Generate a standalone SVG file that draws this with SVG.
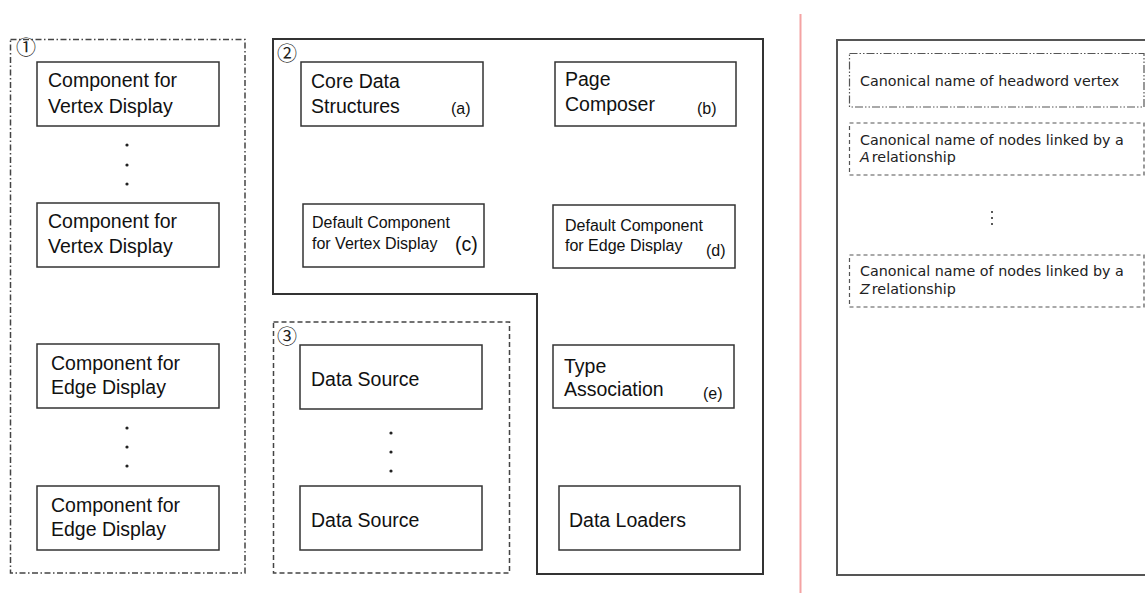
<svg xmlns="http://www.w3.org/2000/svg" width="1145" height="593" viewBox="0 0 1145 593">
  <style>
    .box { fill: #fff; stroke: #333; stroke-width: 1.5; }
    .frame { fill: none; stroke: #333; stroke-width: 2; }
    .dashdot { fill: none; stroke: #444; stroke-width: 1.5; stroke-dasharray: 6 2.5 1.5 2.5; }
    .dashed { fill: none; stroke: #444; stroke-width: 1.5; stroke-dasharray: 5 3; }
    .dashdotdot { fill: none; stroke: #555; stroke-width: 1.2; stroke-dasharray: 8 2 1.5 2 1.5 2; }
    .thindash { fill: none; stroke: #555; stroke-width: 1.2; stroke-dasharray: 4 3; }
    .t { font-family: "Liberation Sans", Arial, sans-serif; font-size: 19.5px; fill: #111; }
    .ts { font-family: "Liberation Sans", Arial, sans-serif; font-size: 16px; fill: #111; }
    .num { font-family: "Noto Sans CJK SC", "DejaVu Sans", sans-serif; font-size: 20px; fill: #222; }
    .tr { font-family: "DejaVu Sans", Verdana, sans-serif; font-size: 14.3px; fill: #222; }
    .dot { fill: #222; }
  </style>

  <!-- separator between the two halves -->
  <line x1="800.5" y1="14" x2="800.5" y2="593" stroke="#f4a3a3" stroke-width="2"/>

  <!-- group 1: display components -->
  <g id="group1">
    <rect class="dashdot" x="10.5" y="39.5" width="234.5" height="533.5"/>
    <text class="num" x="16" y="55">①</text>
  </g>
  <g id="vertex-display-1">
    <rect class="box" x="37" y="62" width="182" height="64"/>
    <text class="t" x="48" y="87">Component for</text>
    <text class="t" x="48" y="113">Vertex Display</text>
  </g>
  <g id="vertex-dots">
    <circle class="dot" cx="127" cy="145" r="1.6"/>
    <circle class="dot" cx="127" cy="165" r="1.6"/>
    <circle class="dot" cx="127" cy="184" r="1.6"/>
  </g>
  <g id="vertex-display-2">
    <rect class="box" x="37" y="203" width="182" height="64"/>
    <text class="t" x="48" y="228">Component for</text>
    <text class="t" x="48" y="253">Vertex Display</text>
  </g>
  <g id="edge-display-1">
    <rect class="box" x="37" y="344" width="182" height="64"/>
    <text class="t" x="51" y="370">Component for</text>
    <text class="t" x="51" y="394">Edge Display</text>
  </g>
  <g id="edge-dots">
    <circle class="dot" cx="127" cy="428" r="1.6"/>
    <circle class="dot" cx="127" cy="447" r="1.6"/>
    <circle class="dot" cx="127" cy="466" r="1.6"/>
  </g>
  <g id="edge-display-2">
    <rect class="box" x="37" y="486" width="182" height="64"/>
    <text class="t" x="51" y="512">Component for</text>
    <text class="t" x="51" y="536">Edge Display</text>
  </g>

  <!-- group 2: core framework -->
  <g id="group2">
    <path class="frame" d="M273,39 H763 V574 H537 V294 H273 Z"/>
    <text class="num" x="277" y="61">②</text>
  </g>
  <g id="core-data">
    <rect class="box" x="301" y="62" width="182" height="64"/>
    <text class="t" x="311" y="88">Core Data</text>
    <text class="t" x="311" y="113">Structures</text>
    <text class="ts" x="451" y="114">(a)</text>
  </g>
  <g id="page-composer">
    <rect class="box" x="555" y="62" width="181" height="64"/>
    <text class="t" x="565" y="86">Page</text>
    <text class="t" x="565" y="111">Composer</text>
    <text class="ts" x="697" y="114">(b)</text>
  </g>
  <g id="default-vertex">
    <rect class="box" x="303" y="204" width="181" height="63"/>
    <text class="ts" x="312" y="228">Default Component</text>
    <text class="ts" x="312" y="249">for Vertex Display</text>
    <text class="t" x="455" y="251">(c)</text>
  </g>
  <g id="default-edge">
    <rect class="box" x="553" y="205" width="182" height="63"/>
    <text class="ts" x="565" y="231">Default Component</text>
    <text class="ts" x="565" y="251">for Edge Display</text>
    <text class="ts" x="706" y="256">(d)</text>
  </g>
  <g id="type-association">
    <rect class="box" x="553" y="345" width="181" height="63"/>
    <text class="t" x="564" y="373">Type</text>
    <text class="t" x="564" y="396">Association</text>
    <text class="ts" x="703" y="399">(e)</text>
  </g>
  <g id="data-loaders">
    <rect class="box" x="559" y="486" width="181" height="64"/>
    <text class="t" x="569" y="527">Data Loaders</text>
  </g>

  <!-- group 3: data sources -->
  <g id="group3">
    <rect class="dashed" x="273.5" y="322" width="236" height="251"/>
    <text class="num" x="277" y="344">③</text>
  </g>
  <g id="data-source-1">
    <rect class="box" x="300" y="345" width="182" height="64"/>
    <text class="t" x="311" y="386">Data Source</text>
  </g>
  <g id="source-dots">
    <circle class="dot" cx="391" cy="433" r="1.6"/>
    <circle class="dot" cx="391" cy="452" r="1.6"/>
    <circle class="dot" cx="391" cy="471" r="1.6"/>
  </g>
  <g id="data-source-2">
    <rect class="box" x="300" y="486" width="182" height="64"/>
    <text class="t" x="311" y="527">Data Source</text>
  </g>

  <!-- page layout panel -->
  <g id="page-panel">
    <rect x="837" y="40" width="320" height="535" fill="none" stroke="#555" stroke-width="2"/>
  </g>
  <g id="headword">
    <rect class="dashdotdot" x="849.5" y="53.5" width="294.5" height="53.5"/>
    <text class="tr" x="860" y="86">Canonical name of headword vertex</text>
  </g>
  <g id="relation-a">
    <rect class="thindash" x="849.5" y="123" width="294.5" height="52"/>
    <text class="tr" x="860" y="145">Canonical name of nodes linked by a</text>
    <text class="tr" x="860" y="162"><tspan font-style="italic">A</tspan><tspan dx="2">relationship</tspan></text>
  </g>
  <g id="relation-dots">
    <circle class="dot" cx="992" cy="212" r="1"/>
    <circle class="dot" cx="992" cy="218" r="1"/>
    <circle class="dot" cx="992" cy="224" r="1"/>
  </g>
  <g id="relation-z">
    <rect class="thindash" x="849.5" y="255" width="294.5" height="52"/>
    <text class="tr" x="860" y="276">Canonical name of nodes linked by a</text>
    <text class="tr" x="860" y="294"><tspan font-style="italic">Z</tspan><tspan dx="2">relationship</tspan></text>
  </g>
</svg>
